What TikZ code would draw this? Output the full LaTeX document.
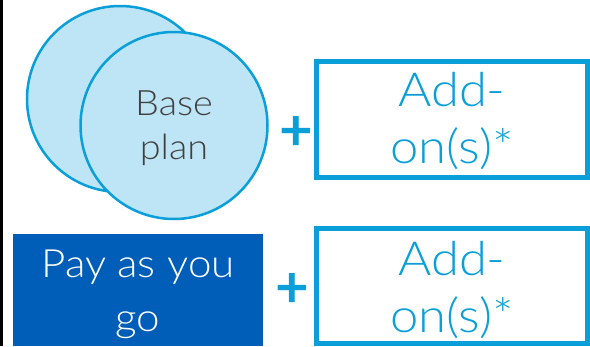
\documentclass[tikz,border=0pt]{standalone}
\usepackage{fontspec}
\setmainfont{Lato}[UprightFont={* Light}, FakeStretch=1.08]
\newfontfamily\plusfont{Lato}
\definecolor{lineblue}{RGB}{10,159,216}
\definecolor{lightfill}{RGB}{190,229,245}
\definecolor{darkblue}{RGB}{0,94,184}
\definecolor{txtgray}{RGB}{64,64,64}
\tikzset{
  plancircle/.style={circle, draw=lineblue, fill=lightfill, line width=2.5pt, inner sep=0pt},
  addbox/.style={draw=lineblue, line width=5pt},
  paybox/.style={fill=darkblue},
  plussign/.style={text=lineblue, font=\plusfont\fontsize{58}{58}\selectfont\bfseries, inner sep=0pt},
}
\begin{document}
\begin{tikzpicture}[x=1pt,y=-1pt]
\useasboundingbox (0,0) rectangle (590,346);
\fill[black] (0,0) rectangle (2.5,346);
% circles
\node[plancircle, minimum size=186pt] (c1) at (120,99) {};
\node[plancircle, minimum size=187pt] (c2) at (174,125.5) {};
\node[anchor=base, text=txtgray, align=center, inner sep=0pt,
  font=\fontsize{35}{44}\selectfont] (basetxt) at (174,159) {Base\\plan};
% plus signs
\node[plussign] (p1) at (296,133) {+};
\node[plussign] (p2) at (292,290) {+};
% add-on boxes
\draw[addbox] (316.5,61.5) rectangle (587.5,177.5);
\node[anchor=base, text=lineblue, align=center, inner sep=0pt,
  font=\fontsize{47}{57}\selectfont] (add1) at (452,163) {Add-\\on(s)*};
\draw[addbox] (316.5,228.5) rectangle (587.5,343.5);
\node[anchor=base, text=lineblue, align=center, inner sep=0pt,
  font=\fontsize{47}{57}\selectfont] (add2) at (452,332) {Add-\\on(s)*};
% pay as you go
\fill[paybox] (12.7,234) rectangle (263,346);
\node[anchor=base, text=white, align=center, inner sep=0pt,
  font=\fontsize{39}{54}\selectfont] (pay) at (138,331) {Pay as you\\go};
\end{tikzpicture}
\end{document}
